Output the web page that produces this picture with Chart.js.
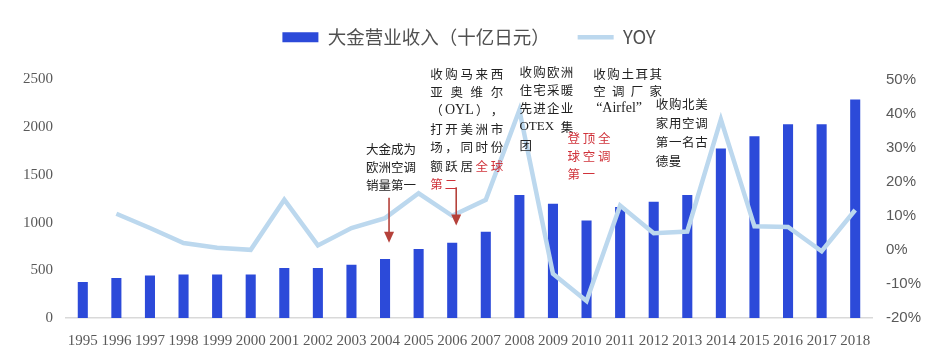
<!DOCTYPE html>
<html>
<head>
<meta charset="utf-8">
<script src="https://cdn.jsdelivr.net/npm/chart.js@4/dist/chart.umd.min.js"></script>
<style>
html,body{margin:0;padding:0;background:#fff;}
#wrap{width:938px;height:356px;position:relative;}
</style>
</head>
<body>
<div id="wrap"><canvas id="c" width="938" height="356"></canvas></div>
<script>
const years = ['1995','1996','1997','1998','1999','2000','2001','2002','2003','2004','2005','2006','2007','2008','2009','2010','2011','2012','2013','2014','2015','2016','2017','2018'];
const revenue = [378,420,445,455,455,455,524,524,559,618,722,790,905,1290,1198,1023,1163,1219,1288,1778,1905,2030,2030,2290];
const yoy = [null,10.6,6.4,2.0,0.6,0.0,14.7,1.3,6.4,9.3,16.6,10.0,14.7,41.0,-7.0,-15.0,13.0,4.9,5.4,38.3,6.9,6.7,-0.4,11.7];
const leftTicks = [0,500,1000,1500,2000,2500];
const rightTicks = [-20,-10,0,10,20,30,40,50];
const seriesNames = ['大金营业收入（十亿日元）','YOY'];

const BLACK = '#222222', RED = '#d0323a';
const notes = [
  {year:'2004', dx:-19, top:1770, gap:18, width:50, lines:[
    {t:['大','金','成','为'], j:true},{t:['欧','洲','空','调'], j:true},{t:['销','量','第','一'], j:true}]},
  {year:'2006', dx:-22, top:2560, gap:18.4, width:73, lines:[
    {t:['收','购','马','来','西'], j:true},{t:['亚','奥','维','尔'], j:true},
    {t:['（',{s:'OYL',fs:14},'）','，'], j:true},{t:['打','开','美','洲','市'], j:true},
    {t:['场','，','同','时','份'], j:true},{t:['额','跃','居',{s:'全',c:RED},{s:'球',c:RED}], j:true},
    {t:[{s:'第',c:RED},{s:'二',c:RED}], j:false, adv:14.6}]},
  {year:'2008', dx:0, top:2580, gap:18.3, width:54, lines:[
    {t:['收','购','欧','洲'], j:true},{t:['住','宅','采','暖'], j:true},{t:['先','进','企','业'], j:true},
    {t:[{s:'OTEX',fs:13},'集'], j:true},{t:['团'], j:false, adv:13}]},
  {year:'2010', dx:-19, top:1885, gap:18, width:43, lines:[
    {t:[{s:'登',c:RED},{s:'顶',c:RED},{s:'全',c:RED}], j:true},{t:[{s:'球',c:RED},{s:'空',c:RED},{s:'调',c:RED}], j:true},
    {t:[{s:'第',c:RED},{s:'一',c:RED}], j:false, adv:15}]},
  {year:'2011', dx:-27, top:2560, gap:17.5, width:69, lines:[
    {t:['收','购','土','耳','其'], j:true},{t:['空','调','厂','家'], j:true},
    {t:[{s:'“Airfel”',fs:14}], j:false, adv:0, dx2:3}]},
  {year:'2012', dx:2, top:2240, gap:19, width:52, lines:[
    {t:['收','购','北','美'], j:true},{t:['家','用','空','调'], j:true},{t:['第','一','名','古'], j:true},
    {t:['德','曼'], j:false, adv:13}]}
];
const arrows = [
  {year:'2004', dx:4, from:1260, to:790},
  {year:'2006', dx:4, from:1370, to:970}
];

const CJK = '"Noto Sans CJK SC", sans-serif';
const SERIF = '"Liberation Serif", serif';
const annPlugin = {
  id:'ann',
  afterDatasetsDraw(chart){
    const ctx = chart.ctx, xs = chart.scales.x, ys = chart.scales.y;
    ctx.save();
    ctx.textBaseline = 'middle';
    notes.forEach(n=>{
      const x0 = xs.getPixelForValue(years.indexOf(n.year)) + n.dx;
      const y0 = ys.getPixelForValue(n.top);
      n.lines.forEach((ln,li)=>{
        const y = y0 + li*n.gap;
        const toks = ln.t.map(t=> typeof t==='string'?{s:t,c:BLACK}:Object.assign({c:BLACK},t));
        const fontFor = tk => tk.fs ? tk.fs+'px '+SERIF : '12.5px '+CJK;
        const widths = toks.map(tk=>{ctx.font=fontFor(tk);return ctx.measureText(tk.s).width;});
        const positions = [];
        if (ln.j && toks.length>1){
          const total = widths.reduce((a,b)=>a+b,0);
          const sp = (n.width - total)/(toks.length-1);
          let x = x0;
          toks.forEach((tk,i)=>{positions.push(x); x += widths[i]+sp;});
        } else {
          let x = x0 + (ln.dx2||0);
          toks.forEach((tk,i)=>{positions.push(x); x += ln.adv ? ln.adv : widths[i];});
        }
        toks.forEach((tk,i)=>{
          ctx.font = fontFor(tk);
          ctx.fillStyle = tk.c;
          ctx.textAlign = 'left';
          ctx.fillText(tk.s, positions[i], y);
        });
      });
    });
    arrows.forEach(a=>{
      const x = xs.getPixelForValue(years.indexOf(a.year)) + a.dx;
      const y1 = ys.getPixelForValue(a.from), y2 = ys.getPixelForValue(a.to);
      ctx.strokeStyle = '#b5413a'; ctx.fillStyle = '#b5413a'; ctx.lineWidth = 1.6;
      ctx.beginPath(); ctx.moveTo(x,y1); ctx.lineTo(x,y2-9); ctx.stroke();
      ctx.beginPath(); ctx.moveTo(x-5,y2-11); ctx.lineTo(x+5,y2-11); ctx.lineTo(x,y2); ctx.closePath(); ctx.fill();
    });
    ctx.restore();
  }
};
const legendGap = {
  id:'legendGap',
  beforeLayout(chart){
    const lg = chart.legend;
    if (lg && !lg._gapPatched){
      const f = lg.fit;
      lg.fit = function(){ f.call(this); this.height += 23; };
      lg._gapPatched = true;
    }
  }
};

new Chart(document.getElementById('c'), {
  data:{
    labels: years,
    datasets:[
      {type:'line', label:seriesNames[1], data:yoy, yAxisID:'y1', borderColor:'#bcd8ee', backgroundColor:'#bcd8ee',
       borderWidth:4.5, pointRadius:0, tension:0, pointStyle:'line', order:0},
      {type:'bar', label:seriesNames[0], data:revenue, yAxisID:'y', backgroundColor:'#2c4ad9', borderWidth:0,
       barPercentage:0.3, categoryPercentage:1, pointStyle:'rect', order:1}
    ]
  },
  options:{
    responsive:false, animation:false,
    layout:{padding:0},
    plugins:{
      legend:{display:true, position:'top', reverse:true,
        labels:{usePointStyle:true, pointStyleWidth:36, boxHeight:10, color:'#505050', padding:28,
          font:{size:18.5, family:CJK}}},
      tooltip:{enabled:false}
    },
    scales:{
      x:{grid:{display:false, drawTicks:false}, border:{display:true,color:'#d9d9d9',width:1.5},
         ticks:{color:'#595959', padding:14, maxRotation:0, autoSkip:false, font:{size:15, family:SERIF}},
         afterFit(s){s.height=38;}},
      y:{position:'left', min:0, max:2500, grid:{display:false, drawTicks:false}, border:{display:false},
         afterBuildTicks(s){s.ticks = leftTicks.map(v=>({value:v}));},
         ticks:{color:'#595959', padding:13, callback:v=>String(v), font:{size:15, family:SERIF}},
         afterFit(s){s.width=66;}},
      y1:{position:'right', min:-20, max:50, grid:{display:false, drawTicks:false}, border:{display:false},
         afterBuildTicks(s){s.ticks = rightTicks.map(v=>({value:v}));},
         ticks:{color:'#595959', padding:14, callback:v=>v+'%', font:{size:15, family:'"Liberation Sans", sans-serif'}},
         afterFit(s){s.width=66;}}
    }
  },
  plugins:[annPlugin, legendGap]
});
</script>
</body>
</html>
